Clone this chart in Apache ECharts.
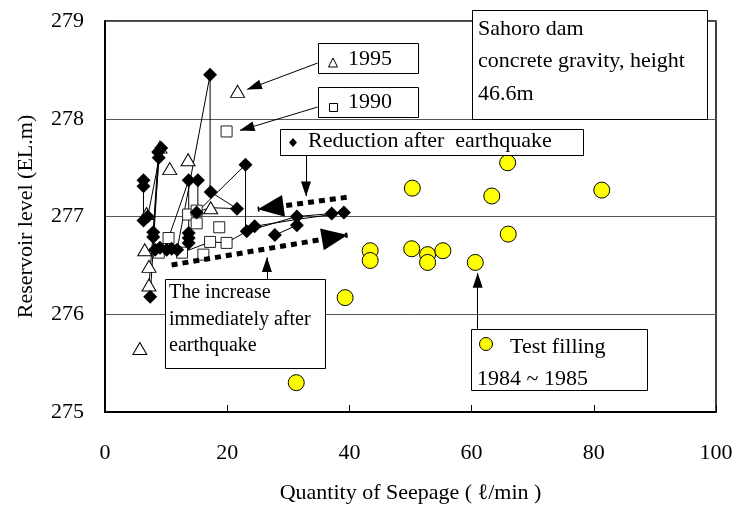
<!DOCTYPE html>
<html><head><meta charset="utf-8">
<script src="https://cdn.jsdelivr.net/npm/echarts@6/dist/echarts.min.js"></script>
<style>html,body{margin:0;padding:0;background:#fff}#c{width:736px;height:519px}</style>
</head><body><div id="c"></div>
<script>
// ---- data (seepage l/min, reservoir level EL.m) ----
const testFilling = [[65.9,277.55],[50.3,277.29],[63.3,277.21],[81.3,277.27],[66.0,276.82],
  [43.4,276.65],[43.4,276.55],[50.2,276.67],[52.8,276.61],[52.8,276.53],[55.3,276.65],
  [60.6,276.53],[39.3,276.17],[31.3,275.30]];
const year1995 = [[21.7,278.28],[9.0,277.71],[10.6,277.49],[13.6,277.58],[17.3,277.09],
  [6.8,277.03],[6.5,276.66],[7.2,276.49],[7.2,276.30],[5.7,275.65]];
const year1990 = [[19.9,277.87],[13.6,277.02],[15.0,277.06],[15.0,276.93],[18.7,276.89],
  [17.2,276.74],[19.9,276.73],[10.4,276.78],[12.6,276.63],[16.1,276.61],[8.8,276.63]];
const reduction = [[17.2,278.45],[6.3,277.37],[6.3,277.31],[6.3,276.96],[7.0,277.00],
  [8.7,277.66],[9.2,277.70],[8.8,277.60],[13.7,277.37],[15.2,277.37],[17.3,277.25],
  [21.6,277.08],[23.0,277.53],[15.0,277.04],[7.9,276.84],[7.9,276.79],[13.7,276.83],
  [13.7,276.78],[13.7,276.73],[8.2,276.66],[9.0,276.68],[10.1,276.66],[10.9,276.67],
  [11.8,276.66],[7.4,276.18],[23.2,276.85],[24.5,276.90],[27.8,276.81],[31.4,277.00],
  [31.4,276.91],[37.1,277.03],[39.1,277.04]];
const connections = [
  [[6.3,277.37],[6.3,276.96]],
  [[9.2,277.70],[7.0,277.00]],
  [[8.8,277.62],[7.4,276.18]],
  [[9.0,277.71],[7.2,276.30]],
  [[8.7,277.64],[7.9,276.84]],
  [[17.2,278.45],[17.2,277.25]],
  [[17.2,278.45],[11.8,276.66]],
  [[13.7,277.37],[13.7,276.73]],
  [[15.2,277.37],[15.2,277.04]],
  [[17.3,277.25],[21.6,277.08]],
  [[23.0,277.53],[15.0,277.04]],
  [[23.0,277.53],[23.0,276.85]],
  [[13.6,277.02],[17.3,277.09],[21.6,277.08]],
  [[10.4,276.78],[13.7,277.37]],
  [[23.2,276.85],[31.4,277.00],[37.1,277.03],[39.1,277.04]],
  [[24.5,276.90],[31.4,276.97],[37.1,277.02]],
  [[27.8,276.81],[31.4,276.91]],
  [[12.6,276.63],[17.2,276.74],[19.9,276.73],[23.2,276.85]]
];
const xTickStep = 20, yTickStep = 1;

const FONT = '"Liberation Serif","Times New Roman",serif';
const chart = echarts.init(document.getElementById('c'), null, {renderer:'canvas'});

const thinArrows = [
  [[34.8,278.57],[23.3,278.30]],
  [[34.8,278.12],[22.1,277.88]],
  [[32.9,277.63],[32.9,277.21]],
  [[26.5,276.36],[26.5,276.58]],
  [[61.0,275.85],[61.0,276.42]]
];
const dottedArrows = [
  [[39.55,277.196],[25.0,277.074]],
  [[10.9,276.504],[39.7,276.81]]
];

const series = [];
connections.forEach(c => series.push({
  type:'line', data:c, symbol:'none', silent:true, z:2,
  lineStyle:{color:'#000', width:1}
}));
series.push({type:'scatter', name:'1990', data:year1990, symbol:'rect', symbolSize:11, z:3,
  itemStyle:{color:'#fff', borderColor:'#222', borderWidth:1, opacity:1}});
series.push({type:'scatter', name:'1995', data:year1995, symbol:'triangle', symbolSize:[14,12], z:4,
  itemStyle:{color:'#fff', borderColor:'#000', borderWidth:1, opacity:1}});
series.push({type:'scatter', name:'Reduction after earthquake', data:reduction, symbol:'diamond', symbolSize:[14,14], z:5,
  itemStyle:{color:'#000', opacity:1}});
series.push({type:'scatter', name:'Test filling', data:testFilling, symbol:'circle', symbolSize:16, z:5,
  itemStyle:{color:'#ffff00', borderColor:'#000', borderWidth:1, opacity:1}});
series.push({type:'scatter', data:[], z:6, silent:true,
  markLine:{silent:true, animation:false, label:{show:false},
    lineStyle:{color:'#000', width:1, type:'solid', opacity:1},
    emphasis:{disabled:true},
    data: thinArrows.map(a => [{coord:a[0], symbol:'none'}, {coord:a[1], symbol:'triangle', symbolSize:[10,15], symbolOffset:[0,7]}])
  }});
series.push({type:'scatter', data:[], z:6, silent:true,
  markLine:{silent:true, animation:false, label:{show:false},
    lineStyle:{color:'#000', width:5, type:[6,5], cap:'butt', opacity:1},
    emphasis:{disabled:true},
    data: dottedArrows.map(a => [{coord:a[0], symbol:'none'}, {coord:a[1], symbol:'triangle', symbolSize:[22,26], symbolOffset:[0,13]}])
  }});

function txt(x,y,s,size){return {type:'text', left:x, top:y, z:100, style:{text:s, font:(size||22)+'px '+FONT, fill:'#000'}};}
function box(x,y,w,h){return {type:'rect', shape:{x:x,y:y,width:w,height:h}, z:99, style:{fill:'#fff', stroke:'#000', lineWidth:1}};}

const graphic = [
  box(472.5,10.5,235,109),
  txt(478,18,'Sahoro dam'), txt(478,50,'concrete gravity, height'), txt(478,83,'46.6m'),
  box(318.5,43.5,100,30),
  {type:'polygon', z:100, shape:{points:[[333,58],[337.5,67],[328.5,67]]}, style:{fill:'#fff', stroke:'#000', lineWidth:1}},
  txt(348,48,'1995'),
  box(318.5,87.5,100,30),
  {type:'rect', z:100, shape:{x:329.5,y:103.5,width:8,height:8}, style:{fill:'#fff', stroke:'#000', lineWidth:1}},
  txt(348,91,'1990'),
  box(280.5,129.5,303,26),
  {type:'polygon', z:100, shape:{points:[[293,138],[297,142.5],[293,147],[289,142.5]]}, style:{fill:'#000'}},
  txt(308,130,'Reduction after  earthquake'),
  box(165.5,279.5,160,89),
  txt(169,283,'The increase',20), txt(169,310,'immediately after',20), txt(169,336,'earthquake',20),
  box(471.5,329.5,176,61),
  {type:'circle', z:100, shape:{cx:486, cy:344, r:6.5}, style:{fill:'#ffff00', stroke:'#000', lineWidth:1}},
  txt(510,336,'Test filling'), txt(477,368,'1984 ~ 1985')
];

chart.setOption({
  animation:false,
  backgroundColor:'#fff',
  grid:{left:105, right:20, top:21, bottom:107, show:true, borderColor:'#000', borderWidth:1.5, backgroundColor:'transparent'},
  xAxis:{type:'value', min:0, max:100, interval:xTickStep,
    name:'Quantity of Seepage ( ℓ/min )', nameLocation:'middle', nameGap:70,
    nameTextStyle:{fontFamily:FONT, fontSize:22, color:'#000'},
    axisLine:{lineStyle:{color:'#000', width:2}},
    axisTick:{inside:true, length:7, lineStyle:{color:'#000', width:1}},
    axisLabel:{margin:30, fontFamily:FONT, fontSize:22, color:'#000'},
    splitLine:{show:false}},
  yAxis:{type:'value', min:275, max:279, interval:yTickStep,
    name:'Reservoir level (EL.m)', nameLocation:'middle', nameGap:68, nameRotate:90,
    nameTextStyle:{fontFamily:FONT, fontSize:22, color:'#000'},
    axisLine:{lineStyle:{color:'#000', width:2}},
    axisTick:{show:false},
    axisLabel:{margin:21, fontFamily:FONT, fontSize:22, color:'#000'},
    splitLine:{show:true, lineStyle:{color:'#555', width:1}}},
  series:series,
  graphic:graphic
});
</script></body></html>
